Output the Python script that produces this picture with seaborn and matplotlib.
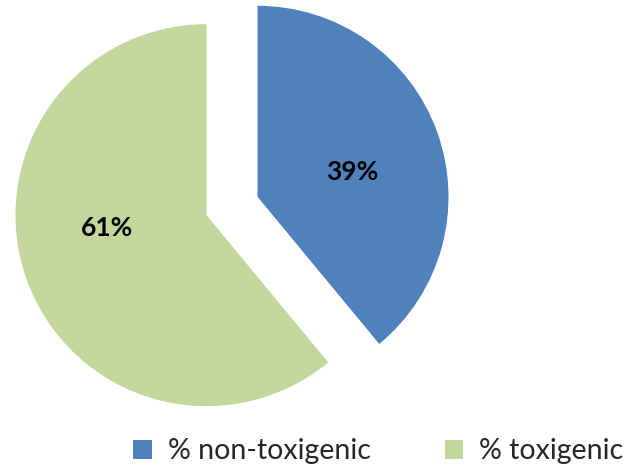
import matplotlib
matplotlib.use("Agg")
import matplotlib.pyplot as plt
import seaborn as sns

# Share of isolates by toxin production
categories = ["% non-toxigenic", "% toxigenic"]
shares = [39, 61]
colors = ["#4F81BD", "#C3D69B"]

sns.set_theme(style="white")
plt.rcParams["font.family"] = ["Lato", "DejaVu Sans"]

fig = plt.figure(figsize=(6.24, 4.66), dpi=100)
ax = fig.add_axes([0, 0, 1, 1])

wedges, texts, autotexts = ax.pie(
    shares,
    colors=colors,
    startangle=90,
    counterclock=False,
    explode=[0.142, 0.142],
    radius=1.0,
    autopct=lambda p: f"{p:.0f}%",
    pctdistance=0.55,
    wedgeprops=dict(linewidth=0),
    textprops=dict(fontsize=19, fontweight="bold", color="black"),
)

# label placement inside each wedge
label_pos = [(0.628, 0.178), (-0.654, -0.115)]
for t, pos in zip(autotexts, label_pos):
    t.set_position(pos)
    t.set_ha("center")
    t.set_va("center")

ax.set_xlim(-1.2147, 2.0524)
ax.set_ylim(-1.3613, 1.0785)
ax.set_aspect("auto")
ax.axis("off")

fig.legend(
    wedges, categories,
    loc="center", bbox_to_anchor=(0.606, 0.032),
    ncol=2, frameon=False, fontsize=20.5,
    handlelength=0.65, handleheight=0.65,
    columnspacing=2.6, handletextpad=0.55,
)

fig.savefig("out.png", dpi=100)
